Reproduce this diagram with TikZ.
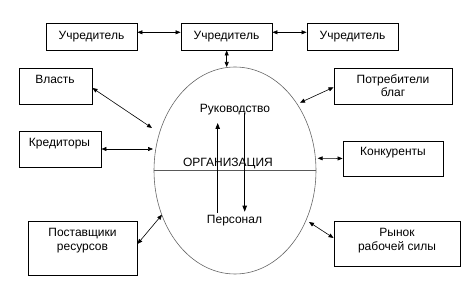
\documentclass[tikz,border=0pt]{standalone}
\usepackage{fontspec}
\setmainfont{Liberation Sans}
\usetikzlibrary{arrows.meta,shapes.geometric}
\begin{document}
\begin{tikzpicture}[x=1pt,y=-1pt,
  box/.style={draw,line width=0.9pt,inner sep=0pt,minimum width=#1},
  lbl/.style={anchor=base,inner sep=0pt,font=\fontsize{12}{13.5}\selectfont,align=center},
  conn/.style={line width=0.6pt,{Triangle[length=5pt,width=4pt]}-{Triangle[length=5pt,width=4pt]}},
  oneway/.style={line width=0.8pt,-{Triangle[length=6pt,width=4.5pt]}}]
\useasboundingbox (0,0) rectangle (472,288);
% boxes
\node[box=91,minimum height=27] (u1) at (91.5,36.5) {};
\node[box=91,minimum height=27] (u2) at (226.5,36.5) {};
\node[box=91,minimum height=27] (u3) at (352.5,36.5) {};
\node[box=73,minimum height=36] (vl) at (55.5,86) {};
\node[box=82,minimum height=36] (kr) at (60,149) {};
\node[box=109,minimum height=54] (ps) at (82.5,248) {};
\node[box=118,minimum height=36] (pb) at (393,86) {};
\node[box=100,minimum height=35] (kn) at (393,158.5) {};
\node[box=126,minimum height=45] (rn) at (397,243.5) {};
% labels
\node[lbl] (tu1) at (91.5,39.3) {Учредитель};
\node[lbl] (tu2) at (226.5,39.3) {Учредитель};
\node[lbl] (tu3) at (352.5,39.3) {Учредитель};
\node[lbl] (tvl) at (55,84) {Власть};
\node[lbl] (tkr) at (59.5,147) {Кредиторы};
\node[lbl,anchor=north] (tps) at (82.5,227.3) {\strut Поставщики\\ресурсов};
\node[lbl] (tpb) at (393,83.5) {Потребители};
\node[lbl] (tpb2) at (393,96.5) {благ};
\node[lbl] (tkn) at (393,155.7) {Конкуренты};
\node[lbl] (trn) at (397,236.5) {Рынок};
\node[lbl] (trn2) at (397,250.5) {рабочей силы};
% organization
\node[ellipse,draw=gray!80!black,line width=0.6pt,minimum width=162,minimum height=207,inner sep=0pt] (org) at (235,170.5) {};
\draw[gray!70!black,line width=1pt] (org.west) -- (org.east);
\node[lbl] (tr) at (235,112.3) {Руководство};
\node[lbl] (to) at (228,166.7) {ОРГАНИЗАЦИЯ};
\node[lbl] (tp) at (234.5,224) {Персонал};
\coordinate (upS) at (217.7,213);
\coordinate (upE) at (217.7,123);
\coordinate (dnS) at (244.7,113);
\coordinate (dnE) at (244.7,211.7);
\draw[oneway] (upS) -- (upE);
\draw[oneway] (dnS) -- (dnE);
% connectors
\coordinate (eVl) at (152,128);
\coordinate (eKr) at (153,149);
\coordinate (ePs) at (162,214.7);
\coordinate (ePb) at (300,102.7);
\coordinate (eKn) at (317.7,158.3);
\coordinate (eRn) at (309,222);
\coordinate (eU) at (226.7,67);
\draw[conn] ([yshift=4.2pt]u1.east) -- ([yshift=4.2pt]u2.west);
\draw[conn] ([yshift=4.2pt]u2.east) -- ([yshift=4.2pt]u3.west);
\draw[conn] ([xshift=0.2pt]u2.south) -- (eU);
\draw[conn] ([yshift=-2pt]vl.east) -- (eVl);
\draw[conn] (kr.east) -- (eKr);
\draw[conn] ([yshift=4pt]ps.east) -- (ePs);
\draw[conn] ([yshift=-1.3pt]pb.west) -- (ePb);
\draw[conn] (kn.west) -- (eKn);
\draw[conn] ([yshift=5.5pt]rn.west) -- (eRn);
\end{tikzpicture}
\end{document}
